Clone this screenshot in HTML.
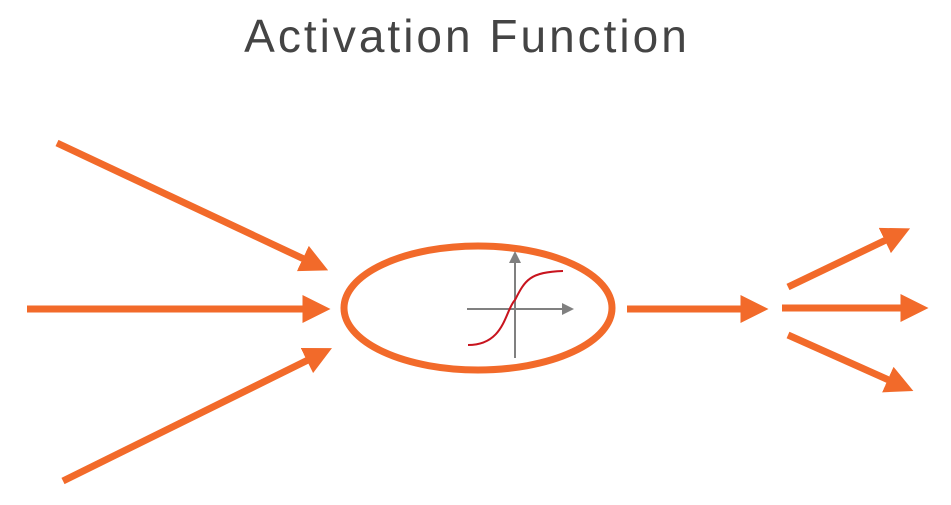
<!DOCTYPE html>
<html><head><style>
html,body{margin:0;padding:0;background:#fff;width:951px;height:505px;overflow:hidden}
</style></head><body>
<svg width="951" height="505" viewBox="0 0 951 505" xmlns="http://www.w3.org/2000/svg">
<defs>
<marker id="a" markerWidth="4" markerHeight="4" refX="0.5" refY="2" orient="auto" markerUnits="strokeWidth" viewBox="0 0 4 4">
<path d="M0,0 L4,2 L0,4 z" fill="#F26A2A"/>
</marker>
<marker id="g" markerWidth="6" markerHeight="6" refX="1" refY="3" orient="auto" markerUnits="strokeWidth" viewBox="0 0 6 6">
<path d="M0,0 L6,3 L0,6 z" fill="#808080"/>
</marker>
</defs>
<text x="467" y="52" font-family="Liberation Sans, sans-serif" font-size="46" fill="#444" text-anchor="middle" letter-spacing="3">Activation Function</text>
<g stroke="#F26A2A" stroke-width="7" fill="none" marker-end="url(#a)">
<line x1="57" y1="143" x2="306" y2="260"/>
<line x1="27" y1="309" x2="306" y2="309"/>
<line x1="63" y1="481" x2="310" y2="359"/>
<line x1="627" y1="309" x2="744" y2="309"/>
<line x1="788" y1="287" x2="888" y2="239"/>
<line x1="782" y1="308" x2="904" y2="308"/>
<line x1="788" y1="335" x2="891" y2="381"/>
</g>
<ellipse cx="478" cy="308" rx="134" ry="62" stroke="#F26A2A" stroke-width="7" fill="none"/>
<g stroke="#808080" stroke-width="2" fill="none">
<line x1="467" y1="309" x2="564" y2="309" marker-end="url(#g)"/>
<line x1="515" y1="358" x2="515" y2="261" marker-end="url(#g)"/>
</g>
<path d="M468,345 C505,345 505,310 515,300 C525,280 530,272 563,271" stroke="#C8141E" stroke-width="2" fill="none"/>
</svg>
</body></html>
